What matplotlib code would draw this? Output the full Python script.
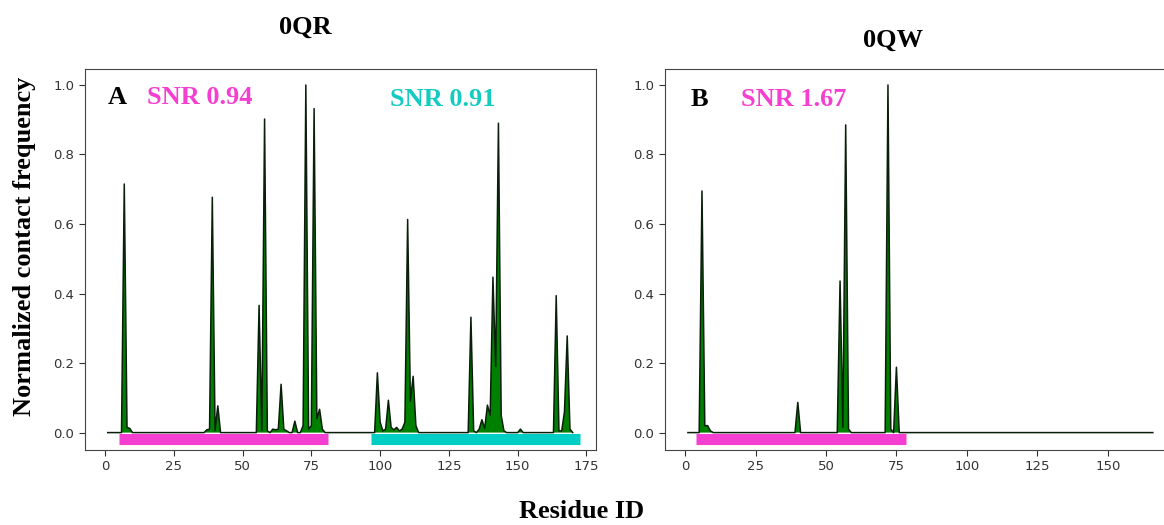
import numpy as np
import matplotlib
matplotlib.use('Agg')
import matplotlib.pyplot as plt

# residue ids and normalized contact frequency (non-zero points)
qr_n = 170
qr_res = [7, 8, 9, 37, 38, 39, 40, 41, 56, 57, 58, 59, 61, 62, 63, 64, 65, 66,
          69, 72, 73, 74, 75, 76, 77, 78, 79,
          99, 100, 101, 102, 103, 104, 105, 106, 107, 108, 109, 110, 111, 112, 113,
          133, 134, 136, 137, 138, 139, 140, 141, 142, 143, 144, 145, 151,
          164, 165, 166, 167, 168, 169]
qr_val = [0.715, 0.015, 0.012, 0.008, 0.01, 0.677, 0.006, 0.077, 0.366, 0.006, 0.902, 0.005,
          0.01, 0.008, 0.01, 0.139, 0.01, 0.005,
          0.033, 0.02, 1.0, 0.01, 0.02, 0.932, 0.04, 0.067, 0.01,
          0.172, 0.03, 0.005, 0.01, 0.093, 0.015, 0.008, 0.015, 0.005, 0.01, 0.03, 0.613, 0.09, 0.162, 0.02,
          0.332, 0.005, 0.01, 0.037, 0.012, 0.079, 0.05, 0.447, 0.19, 0.89, 0.05, 0.005, 0.01,
          0.394, 0.005, 0.005, 0.06, 0.278, 0.01]

qw_n = 166
qw_res = [6, 7, 8, 9, 40, 55, 56, 57, 58, 72, 73, 75]
qw_val = [0.695, 0.02, 0.02, 0.005, 0.087, 0.436, 0.015, 0.885, 0.01, 1.0, 0.01, 0.188]

# domain bars: (start, end, colour)
qr_bars = [(5, 81, '#f43fd0'), (96.5, 172.5, '#00cdc3')]
qw_bars = [(4, 78.3, '#f43fd0')]

qr_ticks = [0, 25, 50, 75, 100, 125, 150, 175]
qw_ticks = [0, 25, 50, 75, 100, 125, 150]

serif = ['Liberation Serif', 'DejaVu Serif']
pink = '#f43fd0'
cyan = '#14cbc2'


def series(n, res, val):
    x = np.arange(1, n + 1)
    y = np.zeros(n)
    y[np.array(res) - 1] = val
    return x, y


def panel(ax, n, res, val, bars, xlim, ticks):
    x, y = series(n, res, val)
    ax.fill_between(x, y, 0, facecolor='green', edgecolor='none')
    ax.plot(x, y, color='#0a1f0a', lw=1.1)
    for a, b, c in bars:
        ax.plot([a, b], [-0.018, -0.018], color=c, lw=8, solid_capstyle='butt')
    ax.set_xlim(*xlim)
    ax.set_ylim(-0.05, 1.045)
    ax.set_xticks(ticks)
    ax.set_yticks([0.0, 0.2, 0.4, 0.6, 0.8, 1.0])
    ax.tick_params(labelsize=9.5, colors='#333333', length=4)
    for s in ax.spines.values():
        s.set_color('#444444')


fig = plt.figure(figsize=(11.64, 5.25), dpi=100)
ax1 = fig.add_axes([0.0726, 0.1429, 0.4394, 0.7251])
ax2 = fig.add_axes([0.571, 0.1429, 0.4394, 0.7251])

panel(ax1, qr_n, qr_res, qr_val, qr_bars, (-7.45, 178.45), qr_ticks)
panel(ax2, qw_n, qw_res, qw_val, qw_bars, (-7.25, 174.25), qw_ticks)

W, H = 1164, 525


def ftext(px, py, s, **kw):
    fig.text(px / W, 1 - py / H, s, family=serif, weight='bold',
             ha=kw.pop('ha', 'center'), va=kw.pop('va', 'center'), **kw)


ftext(305, 27, '0QR', fontsize=19)
ftext(893, 40, '0QW', fontsize=19)
ftext(25, 246, 'Normalized contact frequency', fontsize=19, rotation=90)
ftext(582, 511, 'Residue ID', fontsize=19)

ftext(117, 98, 'A', fontsize=19)
ftext(200, 97, 'SNR 0.94', fontsize=19, color=pink)
ftext(443, 100, 'SNR 0.91', fontsize=19, color=cyan)
ftext(699, 99, 'B', fontsize=19)
ftext(794, 99, 'SNR 1.67', fontsize=19, color=pink)

fig.savefig('out.png', dpi=100)
